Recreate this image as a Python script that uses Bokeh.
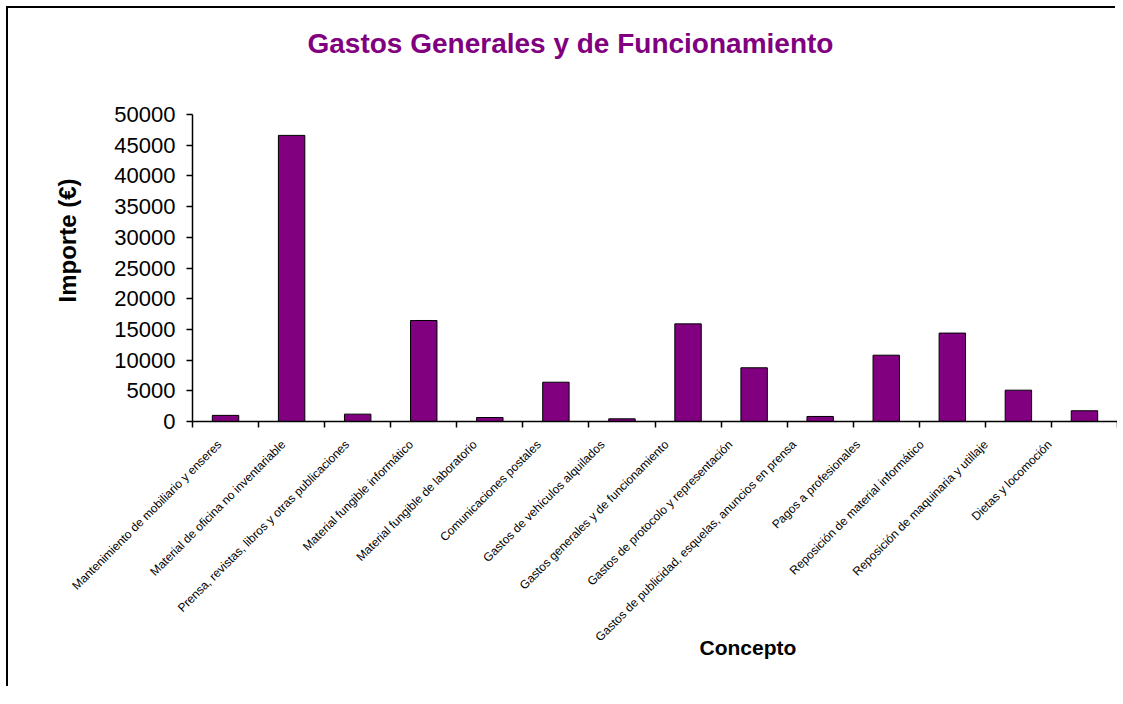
import numpy as np
from math import pi
from bokeh.plotting import figure
from bokeh.models import (Range1d, LinearAxis, FixedTicker, Title,
                          BasicTickFormatter, ColumnDataSource)
from bokeh.embed import file_html
from bokeh.resources import INLINE

# ---- data -------------------------------------------------------------
categories = [
    "Mantenimiento de mobiliario y enseres",
    "Material de oficina no inventariable",
    "Prensa, revistas, libros y otras publicaciones",
    "Material fungible informático",
    "Material fungible de laboratorio",
    "Comunicaciones postales",
    "Gastos de vehículos alquilados",
    "Gastos generales y de funcionamiento",
    "Gastos de protocolo y representación",
    "Gastos de publicidad, esquelas, anuncios en prensa",
    "Pagos a profesionales",
    "Reposición de material informático",
    "Reposición de maquinaria y utillaje",
    "Dietas y locomoción",
]
importes = [1000, 46600, 1200, 16450, 650, 6400, 440, 15900, 8750, 820,
            10800, 14400, 5100, 1750]
y_ticks = [0, 5000, 10000, 15000, 20000, 25000, 30000, 35000, 40000, 45000, 50000]
title_text = "Gastos Generales y de Funcionamiento"
x_title = "Concepto"
y_title = "Importe (€)"

# ---- figure -----------------------------------------------------------
FONT = "Liberation Sans"
PURPLE = "#800080"
n = len(categories)
centers = np.arange(n) + 0.5
bounds = list(range(n + 1))
# label anchors (the original chart packs its rotated labels slightly tighter)
label_pos = [round(0.409 + 0.9665 * i, 4) for i in range(n)]

p = figure(width=1109, height=680,
           x_range=Range1d(0, n), y_range=Range1d(y_ticks[0], y_ticks[-1]),
           x_axis_type=None, y_axis_type=None,
           output_backend="svg", toolbar_location=None,
           min_border_left=184, min_border_right=0,
           min_border_top=106, min_border_bottom=267)
p.title_location = None
p.outline_line_color = None
p.background_fill_color = "white"
p.border_fill_color = "white"
p.styles = {"margin-left": "8px", "margin-top": "8px",
            "box-shadow": "-2px -2px 0 0 black"}

source = ColumnDataSource(dict(x=centers, top=importes, concepto=categories))
p.vbar(x="x", top="top", bottom=0, width=0.4, source=source,
       fill_color=PURPLE, line_color="black", line_width=1)

# y axis
yaxis = LinearAxis(ticker=FixedTicker(ticks=y_ticks, minor_ticks=[]),
                   formatter=BasicTickFormatter(use_scientific=False))
yaxis.axis_line_color = "black"
yaxis.axis_line_width = 1.5
yaxis.major_tick_line_color = "black"
yaxis.major_tick_line_width = 1.5
yaxis.major_tick_out = 6
yaxis.major_tick_in = 0
yaxis.minor_tick_line_color = None
yaxis.major_label_text_font = FONT
yaxis.major_label_text_font_size = "22px"
yaxis.major_label_text_color = "black"
yaxis.major_label_standoff = 11
p.add_layout(yaxis, "left")

# x axis: ticks at category boundaries, rotated labels under each category
xaxis = LinearAxis(ticker=FixedTicker(ticks=label_pos, minor_ticks=bounds),
                   major_label_overrides={lp: cat for lp, cat in zip(label_pos, categories)})
xaxis.axis_line_color = "black"
xaxis.axis_line_width = 1.5
xaxis.major_tick_line_color = None
xaxis.major_tick_out = 0
xaxis.major_tick_in = 0
xaxis.minor_tick_line_color = "black"
xaxis.minor_tick_line_width = 1.5
xaxis.minor_tick_out = 6
xaxis.minor_tick_in = 0
xaxis.major_label_orientation = pi / 4
xaxis.major_label_text_font = FONT
xaxis.major_label_text_font_size = "12px"
xaxis.major_label_text_color = "black"
xaxis.major_label_standoff = 15
p.add_layout(xaxis, "below")

# titles (a blank spacer keeps the main title high above the plot area)
p.add_layout(Title(text=" ", standoff=43, text_font=FONT, text_font_size="10px"), "above")
p.add_layout(Title(text=title_text, align="left", offset=115, standoff=0,
                   text_font=FONT, text_font_style="bold", text_font_size="28px",
                   text_color=PURPLE), "above")
p.add_layout(Title(text=y_title, align="left", offset=119, standoff=61,
                   text_font=FONT, text_font_style="bold", text_font_size="24px",
                   text_color="black"), "left")
p.add_layout(Title(text=x_title, align="left", offset=507, standoff=-34,
                   vertical_align="top",
                   text_font=FONT, text_font_style="bold", text_font_size="21px",
                   text_color="black"), "below")

open("out.html", "w").write(file_html(p, INLINE))
